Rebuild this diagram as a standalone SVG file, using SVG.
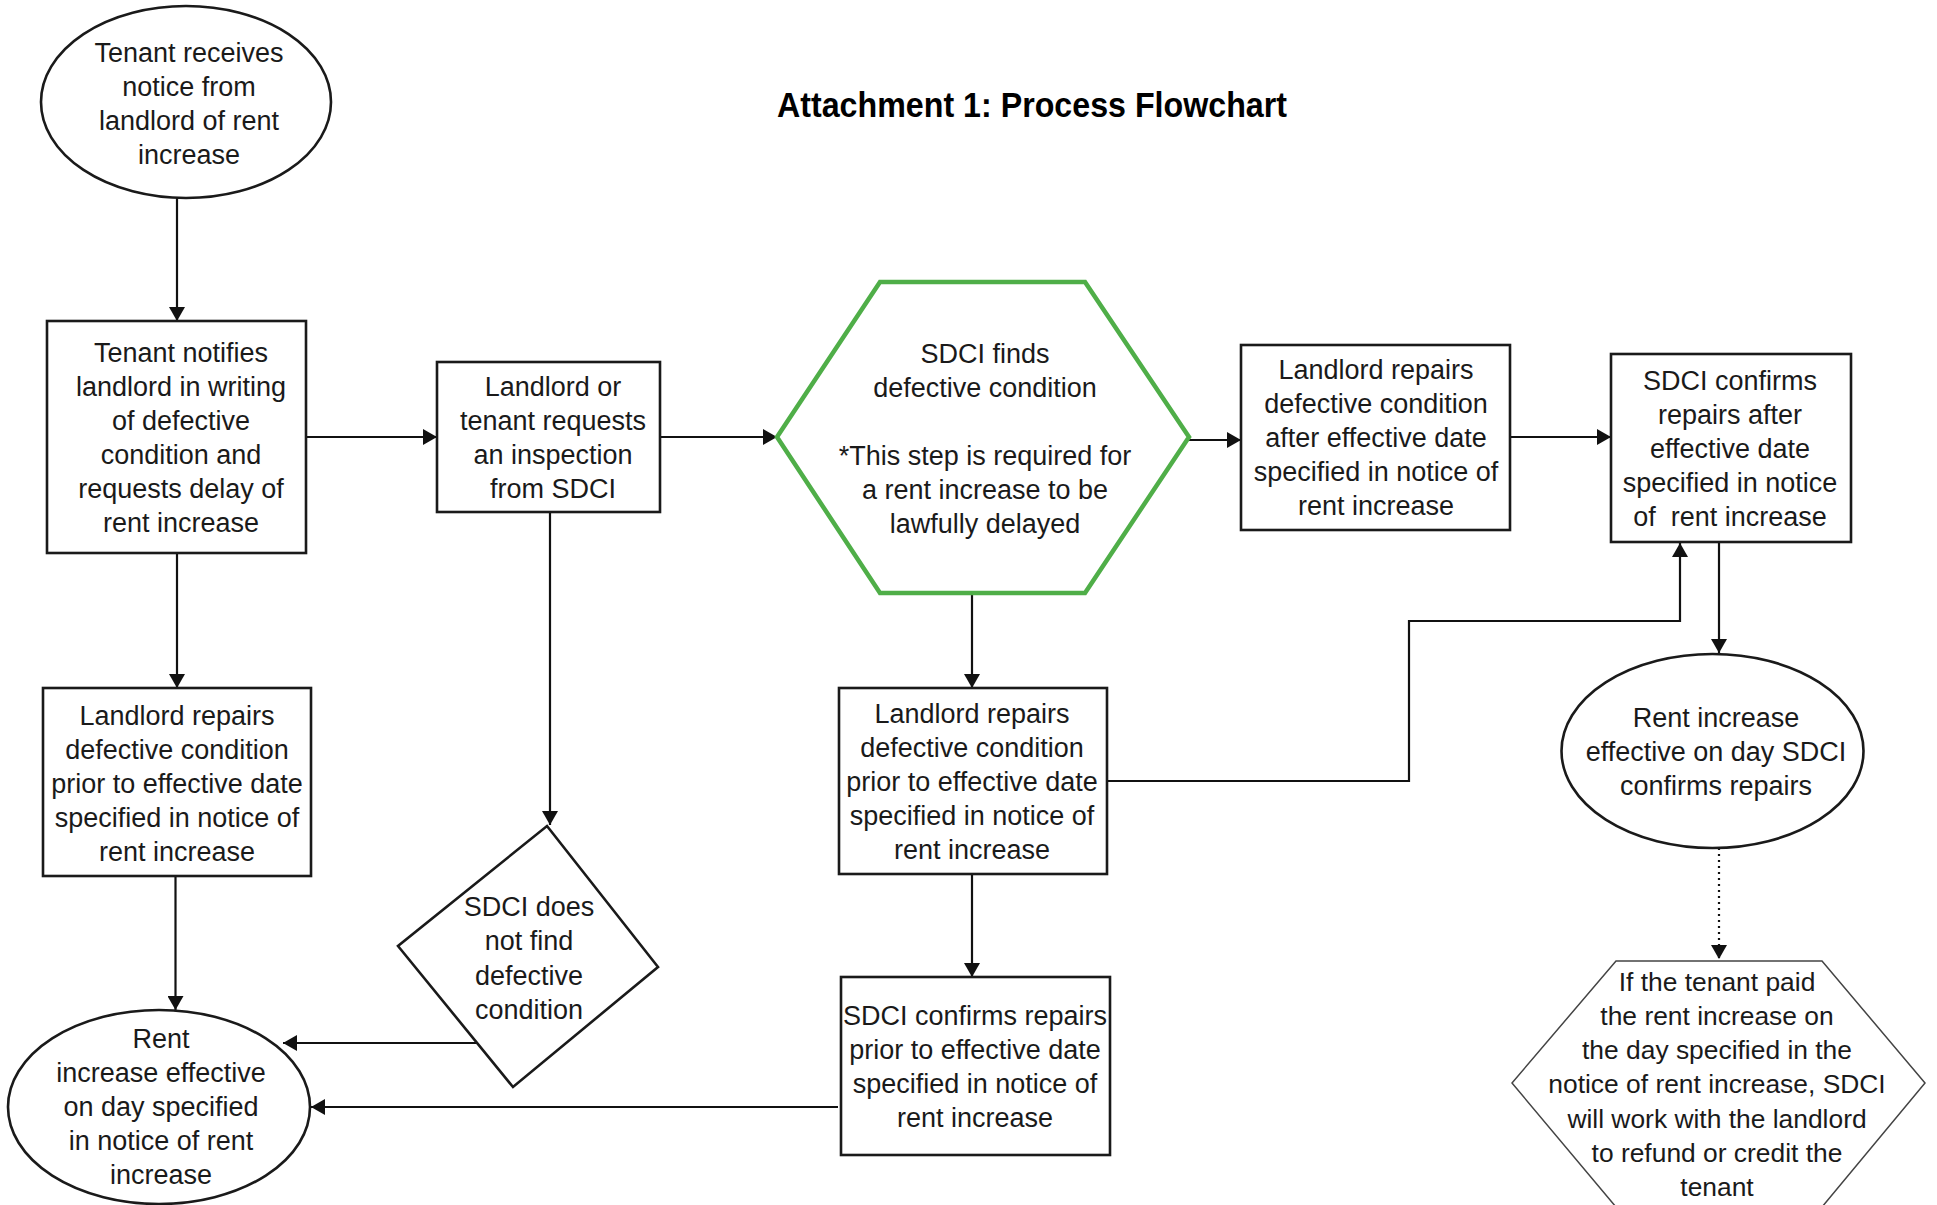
<svg xmlns="http://www.w3.org/2000/svg" width="1937" height="1205" viewBox="0 0 1937 1205">
<defs>
<style>
.bg{fill:#ffffff}
.n{fill:#ffffff;stroke:#1a1a1a;stroke-width:2.6}
.g{fill:#ffffff;stroke:#4fae48;stroke-width:4.5}
.f{fill:#ffffff;stroke:#444444;stroke-width:1.5}
.t{font-family:"Liberation Sans",Arial,sans-serif;font-size:27px;fill:#1a1a1a;text-anchor:middle}
.t2{font-family:"Liberation Sans",Arial,sans-serif;font-size:26.4px;fill:#1a1a1a;text-anchor:middle}
.title{font-family:"Liberation Sans",Arial,sans-serif;font-size:35px;font-weight:bold;fill:#000000;text-anchor:middle}
.c{fill:none;stroke:#111111;stroke-width:2.2}
.d{fill:none;stroke:#111111;stroke-width:2.2;stroke-dasharray:2 4}
</style>
<marker id="ah" markerUnits="userSpaceOnUse" markerWidth="15" markerHeight="16" refX="14" refY="8" orient="auto">
<path d="M0,0 L14,8 L0,16 z" fill="#111111"/>
</marker>
</defs>
<rect class="bg" x="0" y="0" width="1937" height="1205"/>
<text class="title" x="1032" y="117" textLength="510" lengthAdjust="spacingAndGlyphs">Attachment 1: Process Flowchart</text>

<g id="connectors">
<path class="c" d="M177,197 L177,321" marker-end="url(#ah)"/>
<path class="c" d="M306,437 L437,437" marker-end="url(#ah)"/>
<path class="c" d="M660,437 L777,437" marker-end="url(#ah)"/>
<path class="c" d="M1189,440 L1241,440" marker-end="url(#ah)"/>
<path class="c" d="M1510,437 L1611,437" marker-end="url(#ah)"/>
<path class="c" d="M1719,542 L1719,653" marker-end="url(#ah)"/>
<path class="c" d="M972,593 L972,688" marker-end="url(#ah)"/>
<path class="c" d="M1107,781 L1409,781 L1409,621 L1680,621 L1680,543" marker-end="url(#ah)"/>
<path class="c" d="M972,874 L972,977" marker-end="url(#ah)"/>
<path class="c" d="M177,553 L177,688" marker-end="url(#ah)"/>
<path class="c" d="M175.5,876 L175.5,1010" marker-end="url(#ah)"/>
<path class="c" d="M550,512 L550,825" marker-end="url(#ah)"/>
<path class="c" d="M477,1043 L283,1043" marker-end="url(#ah)"/>
<path class="c" d="M838,1107 L311,1107" marker-end="url(#ah)"/>
<path class="d" d="M1719,848 L1719,959" marker-end="url(#ah)"/>
</g>

<g id="n1">
<ellipse class="n" cx="186" cy="102" rx="145" ry="96"/>
<text class="t" x="189" y="62">Tenant receives</text>
<text class="t" x="189" y="96">notice from</text>
<text class="t" x="189" y="130">landlord of rent</text>
<text class="t" x="189" y="164">increase</text>
</g>

<g id="n2">
<rect class="n" x="47" y="321" width="259" height="232"/>
<text class="t" x="181" y="362">Tenant notifies</text>
<text class="t" x="181" y="396">landlord in writing</text>
<text class="t" x="181" y="430">of defective</text>
<text class="t" x="181" y="464">condition and</text>
<text class="t" x="181" y="498">requests delay of</text>
<text class="t" x="181" y="532">rent increase</text>
</g>

<g id="n3">
<rect class="n" x="437" y="362" width="223" height="150"/>
<text class="t" x="553" y="396">Landlord or</text>
<text class="t" x="553" y="430">tenant requests</text>
<text class="t" x="553" y="464">an inspection</text>
<text class="t" x="553" y="498">from SDCI</text>
</g>

<g id="n4">
<polygon class="g" points="777,437 880,282 1085,282 1189,437 1085,593 880,593"/>
<text class="t" x="985" y="363">SDCI finds</text>
<text class="t" x="985" y="397">defective condition</text>
<text class="t" x="985" y="465">*This step is required for</text>
<text class="t" x="985" y="499">a rent increase to be</text>
<text class="t" x="985" y="533">lawfully delayed</text>
</g>

<g id="n5">
<rect class="n" x="1241" y="345" width="269" height="185"/>
<text class="t" x="1376" y="379">Landlord repairs</text>
<text class="t" x="1376" y="413">defective condition</text>
<text class="t" x="1376" y="447">after effective date</text>
<text class="t" x="1376" y="481">specified in notice of</text>
<text class="t" x="1376" y="515">rent increase</text>
</g>

<g id="n6">
<rect class="n" x="1611" y="354" width="240" height="188"/>
<text class="t" x="1730" y="390">SDCI confirms</text>
<text class="t" x="1730" y="424">repairs after</text>
<text class="t" x="1730" y="458">effective date</text>
<text class="t" x="1730" y="492">specified in notice</text>
<text class="t" x="1730" y="526" xml:space="preserve">of  rent increase</text>
</g>

<g id="n7">
<ellipse class="n" cx="1712.5" cy="751" rx="151" ry="97"/>
<text class="t" x="1716" y="727">Rent increase</text>
<text class="t" x="1716" y="761">effective on day SDCI</text>
<text class="t" x="1716" y="795">confirms repairs</text>
</g>

<g id="n8">
<polygon class="f" points="1616,961 1822,961 1925,1083 1822,1207 1616,1207 1512,1083"/>
<text class="t2" x="1717" y="991">If the tenant paid</text>
<text class="t2" x="1717" y="1025">the rent increase on</text>
<text class="t2" x="1717" y="1059">the day specified in the</text>
<text class="t2" x="1717" y="1093">notice of rent increase, SDCI</text>
<text class="t2" x="1717" y="1128">will work with the landlord</text>
<text class="t2" x="1717" y="1162">to refund or credit the</text>
<text class="t2" x="1717" y="1196">tenant</text>
</g>

<g id="n9">
<rect class="n" x="43" y="688" width="268" height="188"/>
<text class="t" x="177" y="725">Landlord repairs</text>
<text class="t" x="177" y="759">defective condition</text>
<text class="t" x="177" y="793">prior to effective date</text>
<text class="t" x="177" y="827">specified in notice of</text>
<text class="t" x="177" y="861">rent increase</text>
</g>

<g id="n10">
<ellipse class="n" cx="159" cy="1107" rx="151" ry="97"/>
<text class="t" x="161" y="1048">Rent</text>
<text class="t" x="161" y="1082">increase effective</text>
<text class="t" x="161" y="1116">on day specified</text>
<text class="t" x="161" y="1150">in notice of rent</text>
<text class="t" x="161" y="1184">increase</text>
</g>

<g id="n11">
<polygon class="n" points="547,826 658,967 513,1087 398,946"/>
<text class="t" x="529" y="916">SDCI does</text>
<text class="t" x="529" y="950">not find</text>
<text class="t" x="529" y="985">defective</text>
<text class="t" x="529" y="1019">condition</text>
</g>

<g id="n12">
<rect class="n" x="839" y="688" width="268" height="186"/>
<text class="t" x="972" y="723">Landlord repairs</text>
<text class="t" x="972" y="757">defective condition</text>
<text class="t" x="972" y="791">prior to effective date</text>
<text class="t" x="972" y="825">specified in notice of</text>
<text class="t" x="972" y="859">rent increase</text>
</g>

<g id="n13">
<rect class="n" x="841" y="977" width="269" height="178"/>
<text class="t" x="975" y="1025">SDCI confirms repairs</text>
<text class="t" x="975" y="1059">prior to effective date</text>
<text class="t" x="975" y="1093">specified in notice of</text>
<text class="t" x="975" y="1127">rent increase</text>
</g>
</svg>
